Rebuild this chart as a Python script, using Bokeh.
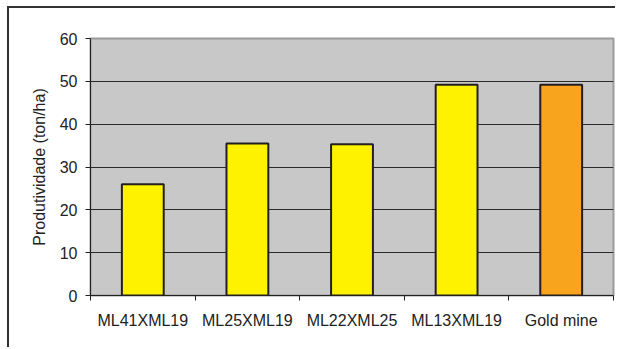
from bokeh.plotting import figure
from bokeh.models import FixedTicker, LinearAxis, Range1d, ColumnDataSource
from bokeh.embed import file_html
from bokeh.resources import INLINE

categories = ["ML41XML19", "ML25XML19", "ML22XML25", "ML13XML19", "Gold mine"]
values = [26.0, 35.5, 35.3, 49.2, 49.2]
colors = ["#FFF200", "#FFF200", "#FFF200", "#FFF200", "#F8A51D"]
y_ticks = [0, 10, 20, 30, 40, 50, 60]

FONT = "Liberation Sans"

n = len(categories)
xc = [i + 0.5 for i in range(n)]
src = ColumnDataSource(dict(x=xc, top=values, color=colors))

# outer chart border drawn by CSS at left 7px / top 6px
OX, OY = 9, 8
p = figure(width=617 - OX, height=349 - OY, output_backend="svg", toolbar_location=None,
           x_range=Range1d(0, n), y_range=Range1d(0, 60),
           min_border_left=90 - OX, min_border_right=4, min_border_top=38 - OY,
           min_border_bottom=54)
p.styles = {"margin-left": "7px", "margin-top": "6px",
            "border-left": "2px solid #333333", "border-top": "2px solid #333333"}
p.background_fill_color = "#C8C8C8"
p.border_fill_color = "white"
p.outline_line_color = "#9A9A9A"
p.outline_line_width = 2

p.vbar(x="x", top="top", width=0.4, bottom=0, fill_color="color",
       line_color="#231F20", line_width=2, source=src)

# y axis
p.yaxis.ticker = FixedTicker(ticks=y_ticks)
p.yaxis.minor_tick_line_color = None
p.yaxis.major_tick_in = 0
p.yaxis.major_tick_out = 5
p.yaxis.axis_line_color = "#222222"
p.yaxis.major_tick_line_color = "#222222"
p.yaxis.major_label_text_font = FONT
p.yaxis.major_label_text_font_size = "16px"
p.yaxis.major_label_text_color = "#222222"
p.yaxis.major_label_standoff = 8
p.yaxis.axis_label = "Produtividade (ton/ha)"
p.yaxis.axis_label_text_font = FONT
p.yaxis.axis_label_text_font_size = "16px"
p.yaxis.axis_label_text_font_style = "normal"
p.yaxis.axis_label_text_color = "#222222"
p.yaxis.axis_label_standoff = 9

# x axis: ticks at category boundaries
p.xaxis.ticker = FixedTicker(ticks=list(range(n + 1)))
p.xaxis.major_label_text_font_size = "0px"
p.xaxis.major_label_overrides = {i: "" for i in range(n + 1)}
p.xaxis.minor_tick_line_color = None
p.xaxis.major_tick_in = 0
p.xaxis.major_tick_out = 5
p.xaxis.axis_line_color = "#222222"
p.xaxis.major_tick_line_color = "#222222"

lab = LinearAxis(ticker=FixedTicker(ticks=xc),
                 major_label_overrides={x: c for x, c in zip(xc, categories)})
lab.axis_line_color = None
lab.major_tick_line_color = None
lab.minor_tick_line_color = None
lab.major_label_text_font = FONT
lab.major_label_text_font_size = "16px"
lab.major_label_text_color = "#222222"
lab.major_label_standoff = 5
p.add_layout(lab, "below")

p.xgrid.grid_line_color = None
p.ygrid.ticker = FixedTicker(ticks=y_ticks)
p.ygrid.grid_line_color = "#2A2A2A"
p.ygrid.grid_line_width = 1

open("out.html", "w").write(file_html(p, INLINE))
